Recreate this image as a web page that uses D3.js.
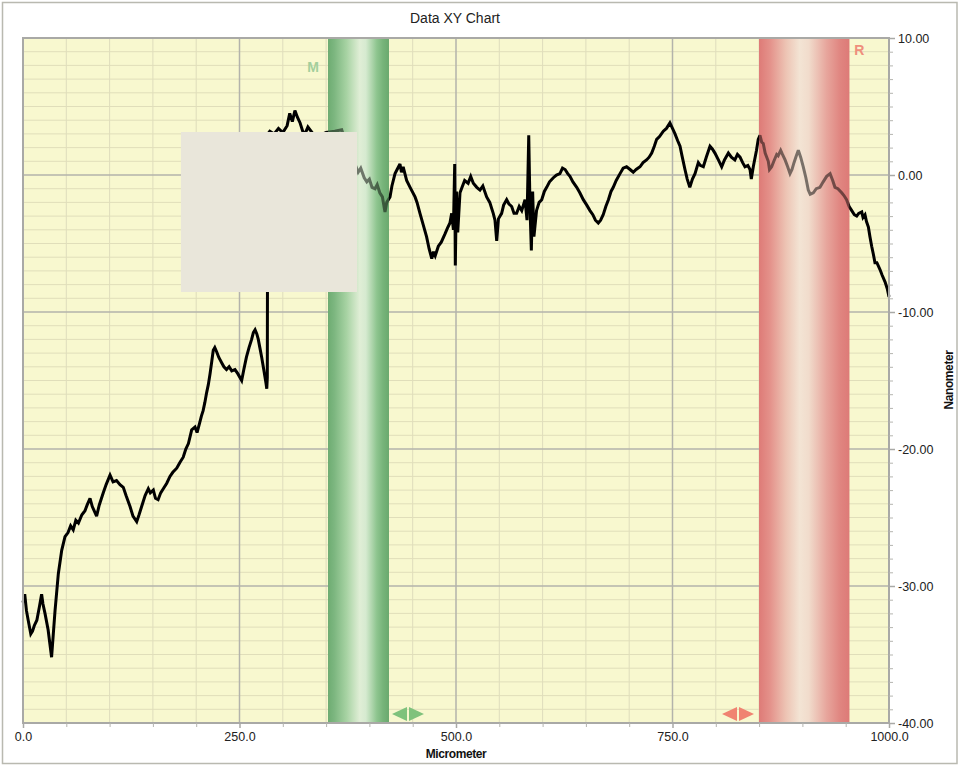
<!DOCTYPE html>
<html>
<head>
<meta charset="utf-8">
<script src="https://cdn.jsdelivr.net/npm/d3@7"></script>
<style>
  html, body { margin: 0; padding: 0; background: #ffffff; }
  svg { display: block; font-family: "Liberation Sans", Arial, sans-serif; }
</style>
</head>
<body>
<svg id="chart" width="961" height="766"></svg>
<script>
// ---------- DATA ----------
const chartTitle = "Data XY Chart";
const xAxisTitle = "Micrometer";
const yAxisTitle = "Nanometer";

const xDomain = [0, 1000];
const yDomain = [-40, 10];
const xMajorTicks = [0, 250, 500, 750, 1000];
const yMajorTicks = [10, 0, -10, -20, -30, -40];

// Profile (micrometer, nanometer)
const micrometer = [
  0, 2, 4, 6, 9, 11, 13, 16, 19, 21.5, 23, 25.4, 29, 31, 33, 35, 37, 40.8, 44.7, 48.5,
  52, 55, 58, 61, 64, 68, 71.6, 74, 77.4, 80, 85, 88, 92.7, 96, 100.5, 104, 108, 112, 115.8, 119,
  123.6, 127, 131.3, 134, 137, 141, 144.7, 147, 150.5, 153, 156, 159, 162, 166, 169.7, 173, 177.5, 181, 185, 188,
  191, 194.8, 198.6, 201, 204, 206, 208, 210, 212, 214, 216, 218, 219.7, 221.5, 223.6, 226, 229.4, 232, 235, 238,
  241, 244.8, 248, 252.5, 255, 258, 261, 264, 266, 268, 270, 271.7, 273.5, 275.6, 278, 280.6, 281.5, 282.1, 282.6, 285,
  290, 295, 300, 305, 308, 311, 314, 317, 320, 323, 325.6, 329, 335, 343, 350, 360, 368, 375, 381, 387,
  390, 394, 397, 400, 403, 406.5, 409, 412, 415, 418, 420, 423.8, 426, 429.6, 432, 435.3, 437, 439, 443, 447,
  452.7, 455, 458.4, 462, 466, 469, 472, 474, 476, 479.6, 483, 487.3, 490, 493, 495, 497, 498.5, 499.2, 500.5, 502,
  504.6, 507, 510, 514, 517, 520, 524, 527.7, 531, 535.4, 539, 543, 545, 547, 549, 552.7, 555, 558.5, 561, 564.3,
  567, 570, 573, 575.9, 579.7, 582, 584, 585.5, 587, 588.5, 590, 593, 596, 599, 602, 604.7, 608, 612.4, 616, 620,
  623, 626, 629, 631.6, 635, 639.4, 643, 647, 651, 654.7, 658, 661, 664.3, 667, 670, 673, 676, 679, 681.6, 685,
  689.4, 693, 697, 701, 704.7, 708, 712.5, 716, 720, 723, 726, 729, 731.7, 735, 739.4, 743, 747, 750, 752.9, 756,
  758.7, 761, 764.4, 767, 770, 773, 776, 779.8, 782, 785.6, 789, 793.3, 796, 799, 803, 806.8, 810, 814.5, 818, 822,
  825, 828, 831, 833.7, 837, 839.5, 841, 843.3, 847, 849, 851, 853, 854.8, 857, 860.6, 862, 864.5, 867, 870.3, 872,
  874.9, 877, 880, 883, 885.7, 888, 890.3, 893, 895.3, 898, 901, 904, 906.8, 909, 912.6, 916, 920.3, 924, 928, 932,
  935, 937.6, 941, 945.4, 948, 951, 954, 957, 960, 962.7, 965, 968.5, 970, 972.3, 974, 976.2, 978, 980, 982, 983.8,
  986, 989.6, 992, 995.4, 998, 1000
];
const nanometer = [
  -31.2, -30.6, -31.8, -32.5, -33.5, -33.3, -32.9, -32.5, -31.5, -30.6, -31.3, -32, -33.2, -34.2, -35.2, -33.5, -31.8, -29.1, -27.4, -26.4,
  -26.1, -25.6, -25.9, -25.2, -25.4, -24.8, -24.5, -24.1, -23.6, -24.2, -24.9, -24.1, -23.2, -22.6, -21.9, -22.4, -22.3, -22.6, -22.8, -23.4,
  -24.2, -24.9, -25.3, -24.8, -24.2, -23.4, -22.9, -23.2, -23, -23.6, -23.7, -23.2, -22.9, -22.5, -22, -21.7, -21.4, -21.0, -20.6, -20.0,
  -19.6, -18.6, -18.4, -18.8, -18.1, -17.6, -17.2, -16.6, -15.9, -15.3, -14.5, -13.6, -12.8, -12.6, -12.9, -13.3, -13.7, -14.0, -14.2, -14.0,
  -14.3, -14.2, -14.5, -15.0, -14.2, -13.3, -12.6, -12.0, -11.5, -11.3, -11.6, -12.0, -12.6, -13.3, -14.2, -15.2, -15.6, -14.8, 3.0, 3.2,
  3.0, 3.4, 3.1, 3.6, 4.5, 3.9, 4.7, 4.2, 3.8, 3.2, 3.0, 3.5, 3.0, 2.9, 3.1, 3.2, 3.3, 2.0, 1.2, 0.2,
  0.5, -0.2, -0.5, -0.3, -0.9, -1.0, -0.7, -1.3, -1.6, -2.7, -2.0, -1.6, -0.8, 0.1, 0.4, 0.8, 0.2, 0.6, -0.4, -0.9,
  -1.6, -2.0, -2.8, -3.6, -4.5, -5.4, -6.1, -5.6, -5.9, -5.2, -4.9, -4.3, -3.9, -3.5, -2.8, -4.0, 0.8, -6.6, -1.2, -4.2,
  -1.3, -0.9, -0.4, -0.6, -0.1, -0.6, -0.9, -1.1, -0.8, -1.6, -2.0, -2.8, -3.3, -4.8, -3.2, -2.8, -2.2, -1.8, -2.1, -2.3,
  -2.8, -2.8, -2.3, -2.6, -1.8, -3.3, 2.9, -2.5, -5.5, -1.2, -4.5, -2.6, -2.0, -1.8, -1.2, -0.9, -0.5, -0.2, 0.0, 0.1,
  0.5, 0.4, 0.1, -0.1, -0.5, -0.9, -1.3, -1.8, -2.2, -2.6, -2.9, -3.3, -3.5, -3.3, -2.9, -2.3, -1.8, -1.2, -0.9, -0.4,
  0.1, 0.5, 0.6, 0.4, 0.2, 0.4, 0.6, 0.9, 1.1, 1.3, 1.6, 2.1, 2.6, 2.8, 3.2, 3.4, 3.8, 3.4, 3.0, 2.5,
  2.1, 1.4, 0.4, -0.3, -0.9, -0.3, 0.1, 0.9, 0.7, 0.6, 1.3, 2.1, 1.9, 1.6, 1.1, 0.6, 1.1, 1.6, 1.3, 1.1,
  1.5, 1.3, 0.9, 0.6, 0.7, 0.4, -0.3, 0.6, 1.8, 2.6, 2.9, 2.4, 2.3, 1.6, 1.0, 0.4, 0.6, 1.0, 1.5, 1.4,
  1.8, 1.5, 1.1, 0.6, 0.1, 0.4, 0.9, 1.4, 1.8, 1.3, 0.6, -0.2, -1.1, -1.4, -1.3, -1.0, -0.9, -0.5, -0.1, 0.1,
  -0.4, -0.9, -1.0, -1.3, -1.5, -1.8, -2.3, -2.6, -2.9, -3.0, -2.8, -2.7, -3.1, -2.9, -3.4, -3.8, -4.5, -5.2, -5.8, -6.4,
  -6.4, -6.9, -7.3, -7.8, -8.3, -8.9
];

// Marker bands (micrometer ranges) and labels
const bandNames = ["M", "R"];
const bandStart = [352.2, 849.9];
const bandEnd = [422.6, 954.2];

// Overlay box (data units)
const boxX = [182.4, 385.7];
const boxY = [3.14, -8.54];

// ---------- LAYOUT ----------
const svg = d3.select("#chart");
const plot = { left: 23, right: 889, top: 38, bottom: 723 };

const x = d3.scaleLinear().domain(xDomain).range([plot.left, plot.right]);
const y = d3.scaleLinear().domain(yDomain).range([plot.bottom, plot.top]);
const hyphen = f => (d => f(d).replace("\u2212", "-"));

// outer frame
svg.append("rect").attr("x", 2.5).attr("y", 2.5).attr("width", 954.5).attr("height", 761)
  .attr("fill", "#ffffff").attr("stroke", "#b9b9b0").attr("stroke-width", 1.5);

// defs: gradients
const defs = svg.append("defs");
const gGreen = defs.append("linearGradient").attr("id", "gradM").attr("x1", 0).attr("x2", 1).attr("y1", 0).attr("y2", 0);
[[0, "#6eac72"], [0.1, "#7cb67f"], [0.3, "#a6d2a2"], [0.52, "#e0eed6"], [0.62, "#d6ead0"], [0.8, "#8ec58f"], [0.9, "#77b47a"], [1, "#6aa96e"]]
  .forEach(s => gGreen.append("stop").attr("offset", s[0]).attr("stop-color", s[1]));
const gRed = defs.append("linearGradient").attr("id", "gradR").attr("x1", 0).attr("x2", 1).attr("y1", 0).attr("y2", 0);
[[0, "#de7b77"], [0.12, "#e4918a"], [0.3, "#edc4b4"], [0.45, "#f3e4d4"], [0.55, "#f1dccc"], [0.75, "#e7a59c"], [0.9, "#e08580"], [1, "#dd7a77"]]
  .forEach(s => gRed.append("stop").attr("offset", s[0]).attr("stop-color", s[1]));
const bandFill = ["url(#gradM)", "url(#gradR)"];
const bandColor = ["#a3cf9c", "#ef8f7c"];
const arrowColor = ["#7fc27c", "#f08371"];

// plot background
svg.append("rect").attr("x", plot.left).attr("y", plot.top)
  .attr("width", plot.right - plot.left).attr("height", plot.bottom - plot.top)
  .attr("fill", "#f8f8cf");

// gridlines
const xMinor = d3.range(xDomain[0], xDomain[1] + 1, 50).filter(v => v % 250 !== 0);
const yMinor = d3.range(yDomain[0], yDomain[1] + 0.5, 1).filter(v => v % 10 !== 0);
const grid = svg.append("g");
grid.selectAll(".vx").data(xMinor).join("line")
  .attr("x1", d => x(d)).attr("x2", d => x(d)).attr("y1", plot.top).attr("y2", plot.bottom)
  .attr("stroke", "#dedcbc").attr("stroke-width", 1);
grid.selectAll(".hy").data(yMinor).join("line")
  .attr("y1", d => y(d)).attr("y2", d => y(d)).attr("x1", plot.left).attr("x2", plot.right)
  .attr("stroke", "#e0deba").attr("stroke-width", 1);
grid.selectAll(".vX").data(xMajorTicks).join("line")
  .attr("x1", d => x(d)).attr("x2", d => x(d)).attr("y1", plot.top).attr("y2", plot.bottom)
  .attr("stroke", "#b3b3ab").attr("stroke-width", 1.5);
grid.selectAll(".hY").data(yMajorTicks).join("line")
  .attr("y1", d => y(d)).attr("y2", d => y(d)).attr("x1", plot.left).attr("x2", plot.right)
  .attr("stroke", "#b3b3ab").attr("stroke-width", 1.5);

// bands (under the line)
bandStart.forEach((s, i) => {
  svg.append("rect").attr("x", x(s)).attr("y", plot.top)
    .attr("width", x(bandEnd[i]) - x(s)).attr("height", plot.bottom - plot.top)
    .attr("fill", bandFill[i]);
});

// profile line
const pts = micrometer.map((m, i) => [m, nanometer[i]]);
const line = d3.line().x(d => x(d[0])).y(d => y(d[1]));
svg.append("path").datum(pts).attr("d", line)
  .attr("fill", "none").attr("stroke", "#000000").attr("stroke-width", 3)
  .attr("stroke-linejoin", "miter").attr("stroke-miterlimit", 3);

// band overlays (translucent, tint the line)
bandStart.forEach((s, i) => {
  svg.append("rect").attr("x", x(s)).attr("y", plot.top)
    .attr("width", x(bandEnd[i]) - x(s)).attr("height", plot.bottom - plot.top)
    .attr("fill", bandFill[i]).attr("opacity", 0.5);
});

// band labels and arrows
bandNames.forEach((n, i) => {
  const lx = i === 0 ? x(bandStart[i]) - 15 : x(bandEnd[i]) + 10;
  const ly = i === 0 ? 67 : 50;
  svg.append("text").attr("x", lx).attr("y", ly).attr("text-anchor", "middle").attr("dy", "0.36em")
    .attr("font-size", 14).attr("font-weight", "bold").attr("fill", bandColor[i]).text(n);
  const cx = i === 0 ? x(bandEnd[i]) + 19 : x(bandStart[i]) - 21;
  const cy = plot.bottom - 9;
  svg.append("path").attr("d", `M${cx - 16},${cy} L${cx - 1},${cy - 7} L${cx - 1},${cy + 7} Z`).attr("fill", arrowColor[i]);
  svg.append("path").attr("d", `M${cx + 16},${cy} L${cx + 1},${cy - 7} L${cx + 1},${cy + 7} Z`).attr("fill", arrowColor[i]);
});

// overlay box
svg.append("rect").attr("x", x(boxX[0])).attr("y", y(boxY[0]))
  .attr("width", x(boxX[1]) - x(boxX[0])).attr("height", y(boxY[1]) - y(boxY[0]))
  .attr("fill", "#e9e6da");

// plot border
svg.append("rect").attr("x", plot.left).attr("y", plot.top)
  .attr("width", plot.right - plot.left).attr("height", plot.bottom - plot.top)
  .attr("fill", "none").attr("stroke", "#a9a9a6").attr("stroke-width", 2);

// axes
const xAxis = d3.axisBottom(x).tickValues(xMajorTicks).tickFormat(hyphen(d3.format(".1f"))).tickSize(5).tickPadding(4);
const gx = svg.append("g").attr("transform", `translate(0,${plot.bottom})`).call(xAxis);
gx.select(".domain").remove();
gx.selectAll(".tick line").attr("stroke", "#a9a9a6").attr("stroke-width", 1.5);
gx.selectAll("text").attr("font-size", 12.5).attr("fill", "#222").attr("font-family", "Liberation Sans, Arial, sans-serif");
const gxm = svg.append("g").attr("transform", `translate(0,${plot.bottom})`)
  .call(d3.axisBottom(x).tickValues(xMinor).tickFormat("").tickSize(4));
gxm.select(".domain").remove();
gxm.selectAll(".tick line").attr("stroke", "#b5b5b0");

const yAxis = d3.axisRight(y).tickValues(yMajorTicks).tickFormat(hyphen(d3.format(".2f"))).tickSize(6).tickPadding(3);
const gy = svg.append("g").attr("transform", `translate(${plot.right},0)`).call(yAxis);
gy.select(".domain").remove();
gy.selectAll(".tick line").attr("stroke", "#a9a9a6").attr("stroke-width", 1.5);
gy.selectAll("text").attr("font-size", 12.5).attr("fill", "#222").attr("font-family", "Liberation Sans, Arial, sans-serif");
const gym = svg.append("g").attr("transform", `translate(${plot.right},0)`)
  .call(d3.axisRight(y).tickValues(yMinor).tickFormat("").tickSize(4));
gym.select(".domain").remove();
gym.selectAll(".tick line").attr("stroke", "#b5b5b0");

// titles
svg.append("text").attr("x", 455).attr("y", 23).attr("text-anchor", "middle")
  .attr("font-size", 14).attr("fill", "#222").text(chartTitle);
svg.append("text").attr("x", 456).attr("y", 758).attr("text-anchor", "middle")
  .attr("font-size", 12).attr("font-weight", "bold").attr("letter-spacing", "-0.4").attr("fill", "#111").text(xAxisTitle);
svg.append("text").attr("transform", "translate(953,380) rotate(-90)").attr("text-anchor", "middle")
  .attr("font-size", 12).attr("font-weight", "bold").attr("letter-spacing", "-0.4").attr("fill", "#111").text(yAxisTitle);
</script>
</body>
</html>
